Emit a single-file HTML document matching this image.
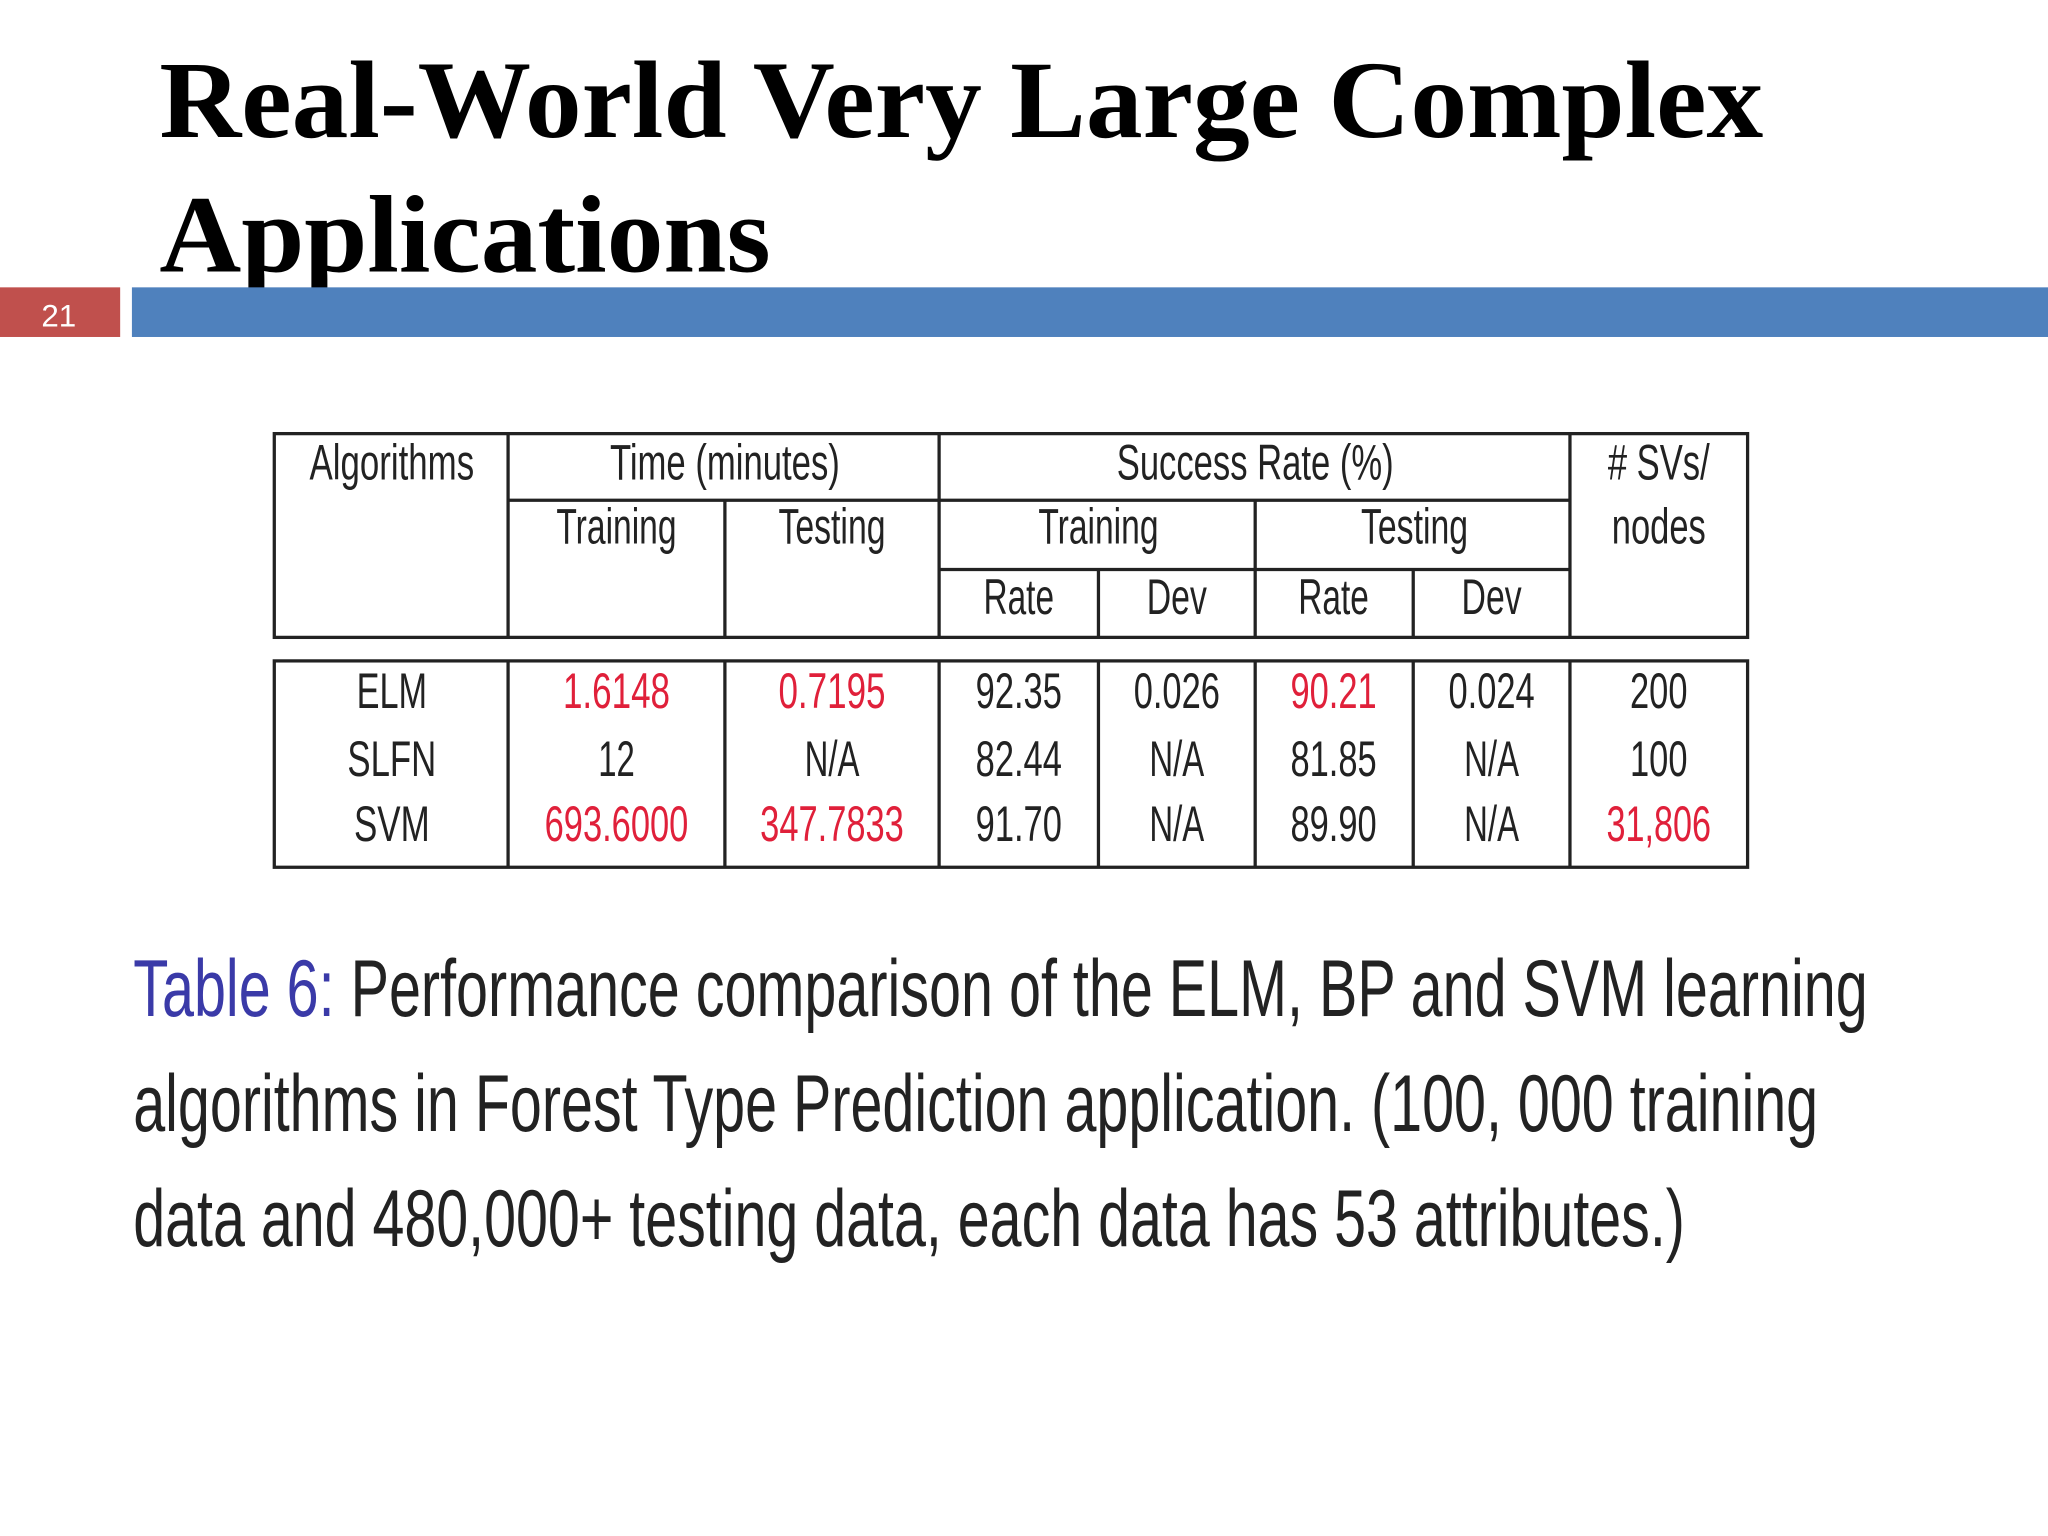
<!DOCTYPE html>
<html><head><meta charset="utf-8">
<style>
html,body{margin:0;padding:0;background:#fff;}
svg{display:block;}
.c{font-family:"Liberation Sans Narrow","Liberation Sans",sans-serif;font-size:38px;fill:#222;text-anchor:middle;}
.r{fill:#e0203a;}
</style></head>
<body>
<svg width="2048" height="1536" viewBox="0 0 1568 1176" xmlns="http://www.w3.org/2000/svg">
<rect x="0" y="0" width="1568" height="1176" fill="#fff"/>
<g font-family="Liberation Serif, serif" font-weight="bold" font-size="84" fill="#000">
<text x="122" y="105" textLength="1228" lengthAdjust="spacingAndGlyphs">Real-World Very Large Complex</text>
<text x="122" y="208" textLength="468" lengthAdjust="spacingAndGlyphs">Applications</text>
</g>
<rect x="0" y="220" width="92" height="38" fill="#c0504d"/>
<text x="45" y="250" font-family="Liberation Sans, sans-serif" font-size="24" fill="#fff" text-anchor="middle">21</text>
<rect x="101" y="220" width="1467" height="38" fill="#4f81bd"/>

<g stroke="#222" stroke-width="2.5" fill="none">
<rect x="210" y="332" width="1128" height="156"/>
<rect x="210" y="506" width="1128" height="158"/>
<line x1="389" y1="332" x2="389" y2="488"/><line x1="389" y1="506" x2="389" y2="664"/>
<line x1="555" y1="383" x2="555" y2="488"/><line x1="555" y1="506" x2="555" y2="664"/>
<line x1="719" y1="332" x2="719" y2="488"/><line x1="719" y1="506" x2="719" y2="664"/>
<line x1="841" y1="436" x2="841" y2="488"/><line x1="841" y1="506" x2="841" y2="664"/>
<line x1="961" y1="383" x2="961" y2="488"/><line x1="961" y1="506" x2="961" y2="664"/>
<line x1="1082" y1="436" x2="1082" y2="488"/><line x1="1082" y1="506" x2="1082" y2="664"/>
<line x1="1202" y1="332" x2="1202" y2="488"/><line x1="1202" y1="506" x2="1202" y2="664"/>
<line x1="389" y1="383" x2="1202" y2="383"/>
<line x1="719" y1="436" x2="1202" y2="436"/>
</g>
<g>
<text class="c" x="300" y="367" textLength="126" lengthAdjust="spacingAndGlyphs">Algorithms</text>
<text class="c" x="555" y="367" textLength="176" lengthAdjust="spacingAndGlyphs">Time (minutes)</text>
<text class="c" x="961" y="367" textLength="212" lengthAdjust="spacingAndGlyphs">Success Rate (%)</text>
<text class="c" x="1270" y="367" textLength="78" lengthAdjust="spacingAndGlyphs"># SVs/</text>
<text class="c" x="1270" y="416" textLength="72" lengthAdjust="spacingAndGlyphs">nodes</text>
<text class="c" x="472" y="416" textLength="92" lengthAdjust="spacingAndGlyphs">Training</text>
<text class="c" x="637" y="416" textLength="82" lengthAdjust="spacingAndGlyphs">Testing</text>
<text class="c" x="841" y="416" textLength="92" lengthAdjust="spacingAndGlyphs">Training</text>
<text class="c" x="1083" y="416" textLength="82" lengthAdjust="spacingAndGlyphs">Testing</text>
<text class="c" x="780" y="470" textLength="54" lengthAdjust="spacingAndGlyphs">Rate</text>
<text class="c" x="901" y="470" textLength="46" lengthAdjust="spacingAndGlyphs">Dev</text>
<text class="c" x="1021" y="470" textLength="54" lengthAdjust="spacingAndGlyphs">Rate</text>
<text class="c" x="1142" y="470" textLength="46" lengthAdjust="spacingAndGlyphs">Dev</text>
</g>
<g>
<text class="c" x="300" y="542" textLength="54" lengthAdjust="spacingAndGlyphs">ELM</text>
<text class="c r" x="472" y="542" textLength="82" lengthAdjust="spacingAndGlyphs">1.6148</text>
<text class="c r" x="637" y="542" textLength="82" lengthAdjust="spacingAndGlyphs">0.7195</text>
<text class="c" x="780" y="542" textLength="66" lengthAdjust="spacingAndGlyphs">92.35</text>
<text class="c" x="901" y="542" textLength="66" lengthAdjust="spacingAndGlyphs">0.026</text>
<text class="c r" x="1021" y="542" textLength="66" lengthAdjust="spacingAndGlyphs">90.21</text>
<text class="c" x="1142" y="542" textLength="66" lengthAdjust="spacingAndGlyphs">0.024</text>
<text class="c" x="1270" y="542" textLength="44" lengthAdjust="spacingAndGlyphs">200</text>

<text class="c" x="300" y="594" textLength="68" lengthAdjust="spacingAndGlyphs">SLFN</text>
<text class="c" x="472" y="594" textLength="28" lengthAdjust="spacingAndGlyphs">12</text>
<text class="c" x="637" y="594" textLength="42" lengthAdjust="spacingAndGlyphs">N/A</text>
<text class="c" x="780" y="594" textLength="66" lengthAdjust="spacingAndGlyphs">82.44</text>
<text class="c" x="901" y="594" textLength="42" lengthAdjust="spacingAndGlyphs">N/A</text>
<text class="c" x="1021" y="594" textLength="66" lengthAdjust="spacingAndGlyphs">81.85</text>
<text class="c" x="1142" y="594" textLength="42" lengthAdjust="spacingAndGlyphs">N/A</text>
<text class="c" x="1270" y="594" textLength="44" lengthAdjust="spacingAndGlyphs">100</text>

<text class="c" x="300" y="644" textLength="58" lengthAdjust="spacingAndGlyphs">SVM</text>
<text class="c r" x="472" y="644" textLength="110" lengthAdjust="spacingAndGlyphs">693.6000</text>
<text class="c r" x="637" y="644" textLength="110" lengthAdjust="spacingAndGlyphs">347.7833</text>
<text class="c" x="780" y="644" textLength="66" lengthAdjust="spacingAndGlyphs">91.70</text>
<text class="c" x="901" y="644" textLength="42" lengthAdjust="spacingAndGlyphs">N/A</text>
<text class="c" x="1021" y="644" textLength="66" lengthAdjust="spacingAndGlyphs">89.90</text>
<text class="c" x="1142" y="644" textLength="42" lengthAdjust="spacingAndGlyphs">N/A</text>
<text class="c r" x="1270" y="644" textLength="80" lengthAdjust="spacingAndGlyphs">31,806</text>
</g>
<g font-family="Liberation Sans Narrow, Liberation Sans, sans-serif" font-size="62" fill="#222">
<text x="102" y="778" textLength="1328" lengthAdjust="spacingAndGlyphs"><tspan fill="#3a3aa8">Table 6:</tspan> Performance comparison of the ELM, BP and SVM learning</text>
<text x="102" y="866" textLength="1290" lengthAdjust="spacingAndGlyphs">algorithms in Forest Type Prediction application. (100, 000 training</text>
<text x="102" y="954" textLength="1188" lengthAdjust="spacingAndGlyphs">data and 480,000+ testing data, each data has 53 attributes.)</text>
</g>
</svg>
</body></html>
